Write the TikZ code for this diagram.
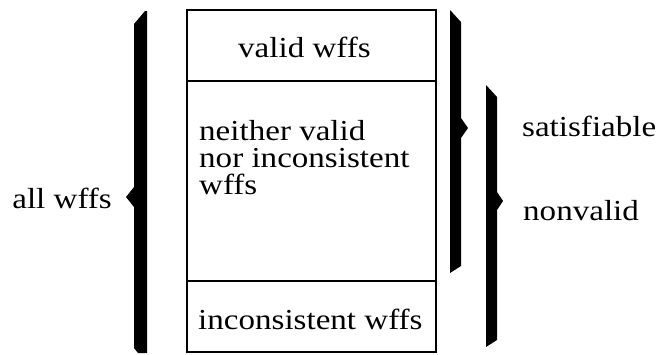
\documentclass[tikz,border=0pt]{standalone}
\usepackage{fontspec}
\setmainfont{Liberation Serif}[FakeStretch=1.14]
\tikzset{
  lbl/.style={inner sep=0pt, font=\fontsize{29}{34}\selectfont},
  tight/.style={inner sep=0pt, font=\fontsize{29}{27}\selectfont},
  frame/.style={line width=2pt, draw=black},
  bracefill/.style={fill=black, draw=none}
}
\begin{document}
\begin{tikzpicture}[x=1pt, y=-1pt]
\useasboundingbox (0,0) rectangle (660,354);
% box
\coordinate (tl) at (187,10);
\coordinate (br) at (436,352);
\coordinate (s1l) at (187,81);
\coordinate (s1r) at (436,81);
\coordinate (s2l) at (187,281);
\coordinate (s2r) at (436,281);
\draw[frame] (tl) rectangle (br);
\draw[frame] (s1l) -- (s1r);
\draw[frame] (s2l) -- (s2r);
% texts in box
\node[lbl, anchor=base west] (valid) at (238,57) {valid wffs};
\node[tight, anchor=north west, align=left] (neither) at (199,120.5) {neither valid\\nor inconsistent\\wffs};
\node[lbl, anchor=base west] (incons) at (198,329) {inconsistent wffs};
% left brace
\fill[bracefill] (145,11) -- (147,11) -- (147,353) -- (138,353) -- (134,348) -- (134,207) -- (126,197) -- (134,187) -- (134,24) -- cycle;
\node[lbl, anchor=base east] (all) at (112,208) {all wffs};
% right brace 1
\fill[bracefill] (450,10) -- (461,22) -- (461,118) -- (468,128) -- (461,138) -- (461,266) -- (450,273) -- cycle;
\node[lbl, anchor=base west] (sat) at (522,136) {satisfiable};
% right brace 2
\fill[bracefill] (486,85) -- (497,97) -- (497,192) -- (503,201) -- (497,210) -- (497,340) -- (486,347) -- cycle;
\node[lbl, anchor=base west] (nonv) at (523,220) {nonvalid};
\end{tikzpicture}
\end{document}
